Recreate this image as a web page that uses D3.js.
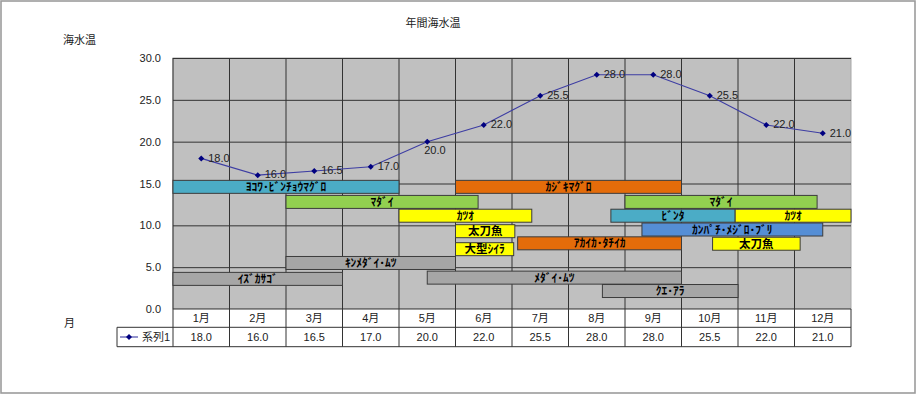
<!DOCTYPE html>
<html>
<head>
<meta charset="utf-8">
<script src="https://cdn.jsdelivr.net/npm/d3@7"></script>
<style>
  body { margin: 0; background: #fff; }
  text { font-family: "Liberation Sans", "Noto Sans CJK JP", sans-serif; }
</style>
</head>
<body>
<svg id="chart"></svg>
<script>
// chart data
const months = ["1月", "2月", "3月", "4月", "5月", "6月", "7月", "8月", "9月", "10月", "11月", "12月"]
const seaTemp = [18.0, 16.0, 16.5, 17.0, 20.0, 22.0, 25.5, 28.0, 28.0, 25.5, 22.0, 21.0]
const yTicks = [0, 5, 10, 15, 20, 25, 30]
const seriesName = "系列1"

// fishing seasons: from / to are counted in months from the start of january
const fishNames = ["ﾖｺﾜ･ﾋﾞﾝﾁｮｳﾏｸﾞﾛ", "ﾏﾀﾞｲ", "ｶﾂｵ", "太刀魚", "大型ｼｲﾗ", "ｷﾝﾒﾀﾞｲ･ﾑﾂ", "ｲｽﾞｶｻｺﾞ",
  "ｶｼﾞｷﾏｸﾞﾛ", "ﾏﾀﾞｲ", "ﾋﾞﾝﾀ", "ｶﾂｵ", "ｶﾝﾊﾟﾁ･ﾒｼﾞﾛ･ﾌﾞﾘ", "ｱｶｲｶ･ﾀﾁｲｶ", "太刀魚", "ﾒﾀﾞｲ･ﾑﾂ", "ｸｴ･ｱﾗ"]
const fishFrom = [0, 2, 4, 5, 5, 2, 0, 5, 8, 7.75, 9.95, 8.3, 6.1, 9.55, 4.5, 7.6]
const fishTo = [4, 5.4, 6.35, 6.05, 6.03, 5, 3, 9, 11.4, 9.95, 12, 11.5, 9, 11.1, 9, 10]
const fishLevel = [14.6, 12.8, 11.15, 9.3, 7.15, 5.5, 3.6, 14.6, 12.8, 11.15, 11.15, 9.5, 7.85, 7.8, 3.75, 2.15]

// bar colours, one per season bar
const fishColors = ["#4BACC6", "#92D050", "#FFFF00", "#FFFF00", "#FFFF00", "#A6A6A6", "#A6A6A6",
  "#E46C0A", "#92D050", "#4BACC6", "#FFFF00", "#558ED5", "#E46C0A", "#FFFF00", "#A6A6A6", "#A6A6A6"]

const W = 917, H = 395
const plot = {left: 173, top: 58, right: 851, bottom: 309}
const rowH = [18.3, 19.4]
const legendLeft = 117

const svg = d3.select("#chart")
  .attr("width", W)
  .attr("height", H)

// chart area frame
svg.append("rect")
  .attr("x", 1).attr("y", 1)
  .attr("width", 914).attr("height", 392)
  .attr("fill", "#fff")
  .attr("stroke", "#9c9c9c")
  .attr("stroke-width", 1.6)

// scales
const x = d3.scaleBand()
  .domain(months)
  .range([plot.left, plot.right])

const xm = d3.scaleLinear()
  .domain([0, 12])
  .range([plot.left, plot.right])

const y = d3.scaleLinear()
  .domain([0, 30])
  .range([plot.bottom, plot.top])

// plot area
svg.append("rect")
  .attr("x", plot.left).attr("y", plot.top)
  .attr("width", plot.right - plot.left)
  .attr("height", plot.bottom - plot.top)
  .attr("fill", "#C0C0C0")
  .attr("stroke", "#a8a8a8")

// horizontal gridlines
svg.append("g")
  .attr("transform", "translate(" + plot.left + ",0)")
  .call(d3.axisLeft(y).tickValues(yTicks.slice(1)).tickSize(-(plot.right - plot.left)).tickFormat(""))
  .call(g => g.select(".domain").remove())
  .call(g => g.selectAll("line").attr("stroke", "#333"))

// vertical gridlines at the month boundaries
svg.append("g")
  .selectAll("line")
  .data(d3.range(0, 12))
  .enter()
  .append("line")
  .attr("x1", d => xm(d)).attr("x2", d => xm(d))
  .attr("y1", plot.top)
  .attr("y2", plot.bottom)
  .attr("stroke", "#333")

// y axis labels
svg.append("g")
  .attr("transform", "translate(" + plot.left + ",0)")
  .call(d3.axisLeft(y).tickValues(yTicks).tickSize(0).tickPadding(12).tickFormat(d3.format(".1f")))
  .call(g => g.select(".domain").remove())
  .call(g => g.selectAll("text")
    .attr("font-size", 11)
    .attr("fill", "#222")
    .style("font-family", "'Liberation Sans', sans-serif"))

// season bars
const barH = 13
const bars = svg.append("g")
  .selectAll("g")
  .data(fishNames.map((name, i) => ({name: name, from: fishFrom[i], to: fishTo[i], level: fishLevel[i], color: fishColors[i]})))
  .enter()
  .append("g")

bars.append("rect")
  .attr("x", d => xm(d.from))
  .attr("y", d => y(d.level) - barH / 2)
  .attr("width", d => xm(d.to) - xm(d.from))
  .attr("height", barH)
  .attr("fill", d => d.color)
  .attr("stroke", "#3c3c3c")
  .attr("stroke-width", 1)

bars.append("text")
  .attr("x", d => (xm(d.from) + xm(d.to)) / 2)
  .attr("y", d => y(d.level))
  .attr("dy", "0.36em")
  .attr("text-anchor", "middle")
  .attr("font-size", 11.5)
  .attr("font-weight", "bold")
  .attr("fill", "#000")
  .style("font-family", "'Noto Sans CJK JP', sans-serif")
  .text(d => d.name)

// sea temperature line
const cx = (d, i) => x(months[i]) + x.bandwidth() / 2
const marker = d3.symbol().type(d3.symbolSquare).size(18)

svg.append("path")
  .datum(seaTemp)
  .attr("fill", "none")
  .attr("stroke", "#3d3da3")
  .attr("stroke-width", 1.1)
  .attr("d", d3.line().x(cx).y(d => y(d)))

svg.append("g")
  .selectAll("path")
  .data(seaTemp)
  .enter()
  .append("path")
  .attr("transform", (d, i) => "translate(" + cx(d, i) + "," + y(d) + ") rotate(45)")
  .attr("d", marker)
  .attr("fill", "#000080")

// data labels, the 5月 one sits under its point
svg.append("g")
  .selectAll("text")
  .data(seaTemp)
  .enter()
  .append("text")
  .attr("x", (d, i) => i === 4 ? cx(d, i) - 3 : cx(d, i) + 7)
  .attr("y", (d, i) => i === 4 ? y(d) + 8 : y(d) - 0.5)
  .attr("dy", "0.35em")
  .attr("font-size", 11)
  .attr("fill", "#222")
  .text(d => d3.format(".1f")(d))

// data table
const t0 = plot.bottom, t1 = plot.bottom + rowH[0], t2 = t1 + rowH[1]
const table = svg.append("g")

table.append("rect")
  .attr("x", plot.left).attr("y", t0)
  .attr("width", plot.right - plot.left).attr("height", rowH[0] + rowH[1])
  .attr("fill", "#fff")

table.append("rect")
  .attr("x", legendLeft).attr("y", t1)
  .attr("width", plot.left - legendLeft).attr("height", rowH[1])
  .attr("fill", "#fff")

const hLines = [[plot.left, t0], [legendLeft, t1], [legendLeft, t2]]
table.selectAll(".hl")
  .data(hLines)
  .enter()
  .append("line")
  .attr("x1", d => d[0]).attr("x2", plot.right)
  .attr("y1", d => d[1]).attr("y2", d => d[1])
  .attr("stroke", "#333")

table.append("line")
  .attr("x1", legendLeft).attr("x2", legendLeft)
  .attr("y1", t1).attr("y2", t2)
  .attr("stroke", "#333")

// month boundaries through the table
table.selectAll(".vl")
  .data(d3.range(0, 13))
  .enter()
  .append("line")
  .attr("x1", d => xm(d)).attr("x2", d => xm(d))
  .attr("y1", t0).attr("y2", t2)
  .attr("stroke", "#333")

table.selectAll(".mon")
  .data(months)
  .enter()
  .append("text")
  .attr("x", d => x(d) + x.bandwidth() / 2)
  .attr("y", (t0 + t1) / 2)
  .attr("dy", "0.36em")
  .attr("text-anchor", "middle")
  .attr("font-size", 11)
  .attr("fill", "#222")
  .text(d => d)

table.selectAll(".val")
  .data(seaTemp)
  .enter()
  .append("text")
  .attr("x", (d, i) => cx(d, i))
  .attr("y", (t1 + t2) / 2)
  .attr("dy", "0.36em")
  .attr("text-anchor", "middle")
  .attr("font-size", 11)
  .attr("fill", "#222")
  .text(d => d3.format(".1f")(d))

// legend key inside the table
const ly = (t1 + t2) / 2
table.append("line")
  .attr("x1", legendLeft + 3).attr("x2", legendLeft + 21)
  .attr("y1", ly).attr("y2", ly)
  .attr("stroke", "#3d3da3")
  .attr("stroke-width", 1.1)
table.append("path")
  .attr("transform", "translate(" + (legendLeft + 12) + "," + ly + ") rotate(45)")
  .attr("d", marker)
  .attr("fill", "#000080")
table.append("text")
  .attr("x", legendLeft + 25)
  .attr("y", ly)
  .attr("dy", "0.36em")
  .attr("font-size", 11)
  .attr("fill", "#222")
  .text(seriesName)

// titles
svg.append("text")
  .attr("x", 433).attr("y", 23)
  .attr("dy", "0.36em")
  .attr("text-anchor", "middle")
  .attr("font-size", 11)
  .attr("fill", "#222")
  .text("年間海水温")

svg.append("text")
  .attr("x", 63).attr("y", 40)
  .attr("dy", "0.36em")
  .attr("font-size", 11)
  .attr("fill", "#222")
  .text("海水温")

svg.append("text")
  .attr("x", 64).attr("y", 323)
  .attr("dy", "0.36em")
  .attr("font-size", 11)
  .attr("fill", "#222")
  .text("月")
</script>
</body>
</html>
